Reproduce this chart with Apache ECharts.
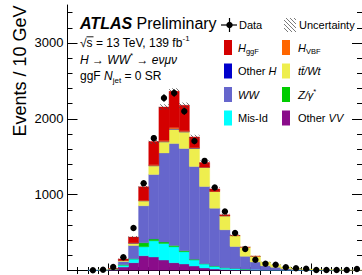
<!DOCTYPE html>
<html><head><meta charset="utf-8">
<script src="https://cdn.jsdelivr.net/npm/echarts@6/dist/echarts.min.js"></script>
<style>html,body{margin:0;padding:0;background:#fff}#c{width:362px;height:275px}</style>
</head><body><div id="c"></div>
<script>
// ---- data (bins of 10 GeV, lower edges) ----
const binLow = [10,20,30,40,50,60,70,80,90,100,110,120,130,140,150,160,170,180,190,200,210,220,230,240,250,260,270,280,290];
const binWidth = 10;
const otherVV = [0,0,1,2,6,45,103,195,178,138,103,86,59,33,20,12,8,5,3,2,2,1,1,1,0,0,0,0,0];
const misId   = [0,0,1,3,8,25,48,118,214,219,210,161,79,53,35,23,17,13,9,6,4,3,2,1,1,1,1,0,0];
const zGamma  = [0,0,0,0,1,5,3,53,22,18,18,14,9,4,3,2,1,1,0,0,0,0,0,0,0,0,0,0,0];
const ww      = [0,0,1,2,6,45,175,487,852,1175,1342,1347,1224,1018,764,500,292,168,100,55,36,20,12,8,6,4,3,3,2];
const ttWt    = [0,0,0,1,2,12,31,65,113,145,190,218,240,250,220,184,140,118,75,49,34,22,15,10,8,6,5,4,3];
const otherH  = [0,0,0,0,0,1,2,3,5,6,6,5,3,2,1,1,0,0,0,0,0,0,0,0,0,0,0,0,0];
const hVBF    = [0,0,0,0,0,1,3,6,10,14,15,12,7,4,2,1,0,0,0,0,0,0,0,0,0,0,0,0,0];
const hggF    = [0,0,0,0,2,18,75,176,306,440,478,335,140,60,31,11,5,3,1,0,0,0,0,0,0,0,0,0,0];
const uncert  = [0,0,0,1,2,6,14,25,32,38,40,36,30,25,20,15,10,7,5,4,3,2,2,1,1,1,1,1,1];
const dataEvents = [null,null,3,10,45,174,560,1150,1745,2274,2340,2099,1706,1445,1095,779,493,283,142,90,76,42,29,24,7,7,7,7,20];
const dataErr    = [0,0,2,3,7,13,24,34,42,48,48,46,41,38,33,28,22,17,12,9,9,6,5,5,3,3,3,3,4];
const yMajor = [0,1000,2000,3000];
const yLabels = [1000,2000,3000];
const yMinor = [200,400,600,800,1200,1400,1600,1800,2200,2400,2600,2800,3200,3400];
const xMajor = [50,100,150,200,250,300];
const xMinor = [20,30,40,60,70,80,90,110,120,130,140,160,170,180,190,210,220,230,240,260,270,280,290];

const FONT = '"Liberation Sans", Arial, Helvetica, sans-serif';
const components = [
  {name:'Other VV', values: otherVV, color:'#8a0c8a'},
  {name:'Mis-Id',   values: misId,   color:'#00ffff'},
  {name:'Z/γ*',     values: zGamma,  color:'#00cc00'},
  {name:'WW',       values: ww,      color:'#6666cc'},
  {name:'tt̄/Wt',    values: ttWt,    color:'#eeee4e'},
  {name:'Other H',  values: otherH,  color:'#0000cc'},
  {name:'H VBF',    values: hVBF,    color:'#ff6600'},
  {name:'H ggF',    values: hggF,    color:'#d40000'}
];

// hatch pattern
const pc = document.createElement('canvas'); pc.width = 4; pc.height = 4;
const pctx = pc.getContext('2d');
pctx.strokeStyle = 'rgba(70,70,70,0.9)'; pctx.lineWidth = 0.8;
pctx.beginPath(); pctx.moveTo(0,0); pctx.lineTo(4,4); pctx.moveTo(-1,3); pctx.lineTo(1,5); pctx.moveTo(3,-1); pctx.lineTo(5,1); pctx.stroke();
const hatch = {image: pc, repeat: 'repeat', imageWidth: 4, imageHeight: 4};

const base = binLow.map(() => 0);
const series = [];
components.forEach((c, ci) => {
  const items = binLow.map((lo, i) => {
    const b = base[i]; base[i] += c.values[i];
    return [lo, lo + binWidth, b, b + c.values[i]];
  });
  series.push({
    type: 'custom', name: c.name, clip: true, z: 2 + ci * 0.01,
    data: items, encode: {x: [0, 1], y: [2, 3]},
    renderItem: (params, api) => {
      if (api.value(3) <= api.value(2)) return null;
      const p0 = api.coord([api.value(0), api.value(2)]);
      const p1 = api.coord([api.value(1), api.value(3)]);
      return {type: 'rect', shape: {x: p0[0], y: p1[1], width: p1[0] - p0[0], height: p0[1] - p1[1]},
        style: {fill: c.color, stroke: c.color, lineWidth: 0.4}};
    }
  });
});
const totals = base.slice();
series.push({
  type: 'custom', name: 'Uncertainty', clip: true, z: 3,
  data: binLow.map((lo, i) => [lo, lo + binWidth, totals[i] - uncert[i], totals[i] + uncert[i]]),
  encode: {x: [0, 1], y: [2, 3]},
  renderItem: (params, api) => {
    if (api.value(3) <= api.value(2)) return null;
    const p0 = api.coord([api.value(0), api.value(2)]);
    const p1 = api.coord([api.value(1), api.value(3)]);
    return {type: 'rect', shape: {x: p0[0], y: p1[1], width: p1[0] - p0[0], height: Math.max(p0[1] - p1[1], 1)},
      style: {fill: hatch}};
  }
});
series.push({
  type: 'custom', name: 'Data', clip: false, z: 5,
  data: binLow.map((lo, i) => [lo + binWidth / 2, dataEvents[i], dataErr[i]]).filter(d => d[1] !== null),
  encode: {x: 0, y: 1},
  renderItem: (params, api) => {
    const c = api.coord([api.value(0), api.value(1)]);
    const lo = api.coord([api.value(0), api.value(1) - api.value(2)]);
    const hi = api.coord([api.value(0), api.value(1) + api.value(2)]);
    return {type: 'group', children: [
      {type: 'line', shape: {x1: c[0], y1: lo[1], x2: c[0], y2: hi[1]}, style: {stroke: '#000', lineWidth: 1.2}},
      {type: 'circle', shape: {cx: c[0], cy: c[1], r: 3.2}, style: {fill: '#000'}}
    ]};
  }
});

const axLine = {show: true, lineStyle: {color: '#000', width: 1}};
const noLine = {show: false};
function xAx(pos, ticks, len, line) {
  return {type: 'value', position: pos, min: 10, max: 300, splitLine: {show: false},
    axisLine: line ? axLine : noLine, axisLabel: {show: false},
    axisTick: {show: true, inside: true, length: len, customValues: ticks, lineStyle: {color: '#000', width: 1}}};
}
function yAx(pos, ticks, len, line, labels) {
  return {type: 'value', position: pos, min: 0, max: 3500, splitLine: {show: false},
    axisLine: line ? axLine : noLine,
    axisLabel: labels ? {show: true, customValues: yLabels, formatter: v => String(v), color: '#000', fontSize: 13, fontFamily: FONT, margin: 4} : {show: false},
    axisTick: {show: true, inside: true, length: len, customValues: ticks, lineStyle: {color: '#000', width: 1}}};
}

// legend layout
const rows = [25, 47.5, 71, 94.5, 118];
const col1x = 224, col2x = 282, boxW = 8, boxH = 15;
const legendCol1 = [
  {c: components[7], text: '{i|H}{sub|ggF}'},
  {c: components[5], text: 'Other {i|H}'},
  {c: components[3], text: '{i|WW}'},
  {c: components[1], text: 'Mis-Id'}
];
const legendCol2 = [
  {c: components[6], text: '{i|H}{sub|VBF}'},
  {c: components[4], text: '{i|tt\u0304/Wt}'},
  {c: components[2], text: '{i|Z/γ}{sup|*}'},
  {c: components[0], text: 'Other {i|VV}'}
];
const rich11 = {
  i: {fontStyle: 'italic', fontSize: 11, fontFamily: FONT, lineHeight: 15, fill: '#000'},
  sub: {fontSize: 7.5, fontFamily: FONT, verticalAlign: 'bottom', lineHeight: 8, fill: '#000'},
  sup: {fontSize: 7.5, fontFamily: FONT, verticalAlign: 'top', lineHeight: 8, fill: '#000'}
};
function txt(x, y, text, size, rich, extra) {
  return Object.assign({type: 'text', x: x, y: y, silent: true,
    style: {text: text, fontSize: size, fontFamily: FONT, fill: '#000', align: 'left', verticalAlign: 'middle', lineHeight: size + 4, rich: rich}}, extra || {});
}
const graphics = [];
legendCol1.forEach((it, k) => {
  graphics.push({type: 'rect', shape: {x: col1x, y: rows[k + 1] - boxH / 2, width: boxW, height: boxH}, style: {fill: it.c.color}});
  graphics.push(txt(238, rows[k + 1], it.text, 11, rich11));
});
legendCol2.forEach((it, k) => {
  graphics.push({type: 'rect', shape: {x: col2x, y: rows[k + 1] - boxH / 2, width: boxW, height: boxH}, style: {fill: it.c.color}});
  graphics.push(txt(298, rows[k + 1], it.text, 11, rich11));
});
// Data legend marker
graphics.push({type: 'line', shape: {x1: 221, y1: rows[0], x2: 237, y2: rows[0]}, style: {stroke: '#000', lineWidth: 1.2}});
graphics.push({type: 'line', shape: {x1: 229.5, y1: rows[0] - 7, x2: 229.5, y2: rows[0] + 7}, style: {stroke: '#000', lineWidth: 1.2}});
graphics.push({type: 'circle', shape: {cx: 229.5, cy: rows[0], r: 3.2}, style: {fill: '#000'}});
graphics.push(txt(239, rows[0], 'Data', 11, rich11));
graphics.push({type: 'rect', shape: {x: 284, y: rows[0] - 7, width: 12, height: 14}, style: {fill: hatch}});
graphics.push(txt(299, rows[0], 'Uncertainty', 11, rich11));

// ATLAS label block
const rich12 = {
  b: {fontWeight: 'bold', fontStyle: 'italic', fontSize: 16, fontFamily: FONT, lineHeight: 20, fill: '#000'},
  i: {fontStyle: 'italic', fontSize: 12, fontFamily: FONT, lineHeight: 16, fill: '#000'},
  sub: {fontSize: 8, fontFamily: FONT, verticalAlign: 'bottom', lineHeight: 9, fill: '#000'},
  sup: {fontSize: 8, fontFamily: FONT, verticalAlign: 'top', lineHeight: 9, fill: '#000'}
};
graphics.push(txt(80, 23.5, '{b|ATLAS} Preliminary', 16, rich12));
graphics.push(txt(80, 42.5, '√s = 13 TeV, 139 fb{sup|-1}', 12, rich12));
graphics.push({type: 'line', shape: {x1: 86.5, y1: 36.8, x2: 93.5, y2: 36.8}, style: {stroke: '#000', lineWidth: 0.9}});
graphics.push(txt(80, 59.5, '{i|H} → {i|WW}{sup|*} → {i|eνμν}', 12, rich12));
graphics.push(txt(80, 76, 'ggF {i|N}{sub|jet} = 0 SR', 12, rich12));
// y-axis title
graphics.push({type: 'text', x: 20, y: 71, rotation: Math.PI / 2, silent: true,
  style: {text: 'Events / 10 GeV', fontSize: 18, fontFamily: FONT, fill: '#000', align: 'center', verticalAlign: 'middle'}});

const chart = echarts.init(document.getElementById('c'), null, {renderer: 'svg', width: 362, height: 275});
chart.setOption({
  animation: false,
  backgroundColor: '#fff',
  grid: {left: 67.5, top: 5, right: -3.3, bottom: 4.5, containLabel: false},
  xAxis: [xAx('bottom', xMajor, 7, true), xAx('bottom', xMinor, 3.5, false), xAx('top', xMajor, 7, true), xAx('top', xMinor, 3.5, false)],
  yAxis: [yAx('left', yMajor, 10, true, true), yAx('left', yMinor, 5, false, false), yAx('right', yMajor, 10, true, false), yAx('right', yMinor, 5, false, false)],
  series: series,
  graphic: {elements: graphics}
});
</script></body></html>
